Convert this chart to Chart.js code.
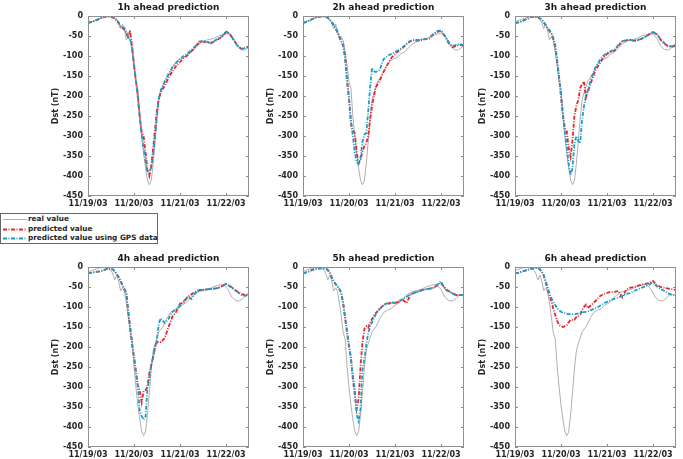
<!DOCTYPE html>
<html><head><meta charset="utf-8">
<script src="https://cdn.jsdelivr.net/npm/chart.js@4.4.1/dist/chart.umd.min.js"></script>
<style>
html,body{margin:0;padding:0;background:#fff;overflow:hidden;width:683px;height:459px;}
canvas{position:absolute;}
#legend{position:absolute;left:0;top:213px;width:156px;height:29px;border:1px solid #666;background:#fff;font:bold 7.3px "DejaVu Sans",sans-serif;color:#262626;}
.row{position:absolute;left:0;height:10px;width:156px;}
.row svg{position:absolute;left:2px;top:0;}
.row span{position:absolute;left:27px;top:0;line-height:10px;white-space:nowrap;}
</style></head><body>
<div id="legend">
  <div class="row" style="top:0px"><svg width="24" height="10"><line x1="0" y1="5.5" x2="24" y2="5.5" stroke="#b0b0b0" stroke-width="1"/></svg><span>real value</span></div>
  <div class="row" style="top:9.5px"><svg width="24" height="10"><line x1="0" y1="5.5" x2="24" y2="5.5" stroke="#e8262b" stroke-width="1.8" stroke-dasharray="4 1.5 1 1.5"/></svg><span>predicted value</span></div>
  <div class="row" style="top:19px"><svg width="24" height="10"><line x1="0" y1="5.5" x2="24" y2="5.5" stroke="#1f9bc4" stroke-width="1.8" stroke-dasharray="4 1.5 1 1.5"/></svg><span>predicted value using GPS data</span></div>
</div>
<script>
// ---------------- DATA ----------------
const xTickHours = [0, 24, 48, 72];
const xTickLabels = ['11/19/03', '11/20/03', '11/21/03', '11/22/03'];
const yTickValues = [0, -50, -100, -150, -200, -250, -300, -350, -400, -450];
const panelTitles = ['1h ahead prediction', '2h ahead prediction', '3h ahead prediction',
                     '4h ahead prediction', '5h ahead prediction', '6h ahead prediction'];

// hours since 11/19/03 00:00
const hours = [0,2,4,6,8,10,12,
  13,14,15,16,17,18,19,20,21,22,23,24,25,26,27,28,29,30,31,32,33,34,35,36,37,38,
  40,42,44,46,48,50,52,54,56,58,60,62,64,66,68,70,72,74,76,78,80,82,84];
const realHours = hours.concat([86, 88, 90]);

// observed Dst (nT), time base of the 1h panel
const realDst = [-16,-14,-11,-7,-4,-1,-1,
  -3,-5,-8,-18,-32,-20,-35,-60,-52,-62,-90,-125,-165,-180,-250,-300,-345,-380,-410,-422,-412,-370,-315,-255,-210,-192,
  -162,-150,-130,-114,-108,-104,-95,-90,-80,-70,-64,-60,-58,-55,-50,-47,-44,-45,-56,-75,-84,-85,-78,
  -68,-70,-70];
// shift (hours) of the observed curve as it appears in each panel
const realShiftHours = [0, -1, -2, -3, -4, -5];

const pred1h = [-17,-15,-11,-7,-3,-1,-2,
  -4,-7,-12,-18,-27,-30,-34,-42,-55,-35,-80,-120,-160,-200,-250,-290,-300,-340,-385,-400,-375,-330,-280,-235,-205,-190,
  -175,-155,-138,-125,-115,-105,-98,-88,-78,-66,-64,-66,-68,-64,-58,-52,-40,-46,-60,-74,-82,-80,-76];
const gps1h = [-17,-15,-11,-7,-3,-1,-1,
  -3,-6,-10,-16,-26,-28,-30,-40,-52,-60,-72,-125,-165,-205,-255,-300,-330,-360,-390,-388,-380,-345,-300,-250,-205,-185,
  -165,-145,-128,-117,-107,-100,-93,-85,-75,-64,-62,-65,-67,-62,-56,-50,-38,-45,-60,-75,-83,-80,-75];

const pred2h = [-17,-15,-10,-5,-2,-1,-2,
  -5,-10,-16,-23,-31,-41,-52,-64,-75,-100,-160,-205,-270,-285,-293,-340,-368,-360,-340,-325,-318,-300,-260,-225,-200,-178,
  -162,-140,-122,-105,-95,-87,-80,-70,-63,-60,-62,-60,-58,-56,-46,-40,-37,-50,-68,-78,-75,-72,-75];
const gps2h = [-17,-15,-10,-5,-2,-1,-2,
  -5,-10,-15,-22,-30,-40,-50,-62,-72,-110,-165,-205,-260,-300,-340,-365,-370,-355,-315,-296,-293,-240,-180,-130,-138,-140,
  -135,-108,-100,-95,-90,-85,-78,-70,-62,-60,-60,-58,-58,-55,-45,-38,-36,-50,-65,-75,-72,-70,-73];

const pred3h = [-17,-16,-12,-8,-3,-2,-3,
  -6,-10,-16,-24,-32,-38,-45,-58,-78,-115,-155,-200,-245,-280,-288,-330,-352,-310,-250,-225,-210,-180,-170,-164,-205,-190,
  -162,-135,-120,-105,-95,-90,-86,-74,-64,-61,-60,-62,-60,-57,-52,-46,-40,-46,-60,-70,-76,-77,-73];
const gps3h = [-17,-16,-12,-8,-3,-2,-3,
  -6,-10,-15,-22,-30,-36,-43,-55,-72,-110,-150,-200,-250,-290,-325,-370,-398,-380,-320,-300,-312,-318,-260,-225,-200,-185,
  -152,-128,-112,-100,-92,-88,-84,-72,-63,-60,-60,-61,-60,-57,-52,-46,-40,-45,-58,-68,-75,-76,-72];

const pred4h = [-15,-14,-12,-11,-8,-5,-4,
  -6,-11,-18,-26,-36,-46,-56,-66,-112,-152,-195,-225,-262,-295,-310,-338,-310,-308,-300,-265,-245,-225,-200,-188,-186,-188,
  -178,-150,-125,-112,-92,-88,-75,-68,-62,-58,-57,-56,-55,-54,-52,-48,-43,-48,-55,-62,-68,-70,-68];
const gps4h = [-15,-14,-12,-11,-8,-5,-4,
  -6,-11,-18,-25,-35,-45,-55,-65,-110,-150,-190,-225,-260,-300,-360,-372,-382,-375,-305,-280,-245,-225,-200,-180,-140,-128,
  -140,-130,-112,-105,-97,-85,-74,-80,-65,-58,-57,-56,-55,-54,-52,-47,-42,-47,-55,-62,-70,-72,-70];

const pred5h = [-16,-13,-9,-5,-4,-3,-4,
  -8,-15,-26,-36,-43,-49,-56,-66,-95,-130,-165,-200,-225,-280,-320,-355,-330,-250,-190,-155,-148,-152,-140,-130,-122,-115,
  -104,-96,-92,-90,-90,-87,-82,-90,-70,-64,-62,-58,-55,-54,-52,-46,-40,-52,-60,-65,-70,-70,-70];
const gps5h = [-16,-13,-9,-5,-4,-3,-4,
  -8,-15,-25,-35,-42,-48,-55,-65,-90,-125,-160,-195,-230,-270,-305,-370,-385,-355,-260,-230,-195,-165,-150,-138,-128,-118,
  -105,-95,-90,-88,-90,-85,-80,-75,-68,-64,-62,-58,-56,-54,-52,-44,-36,-55,-62,-66,-72,-70,-70];

const pred6h = [-16,-14,-11,-8,-5,-3,-3,
  -6,-12,-22,-38,-55,-72,-86,-105,-120,-135,-145,-148,-150,-148,-145,-138,-132,-132,-132,-125,-123,-119,-108,-100,-94,-103,
  -94,-85,-74,-68,-65,-62,-62,-60,-76,-57,-52,-50,-47,-44,-42,-40,-35,-45,-50,-52,-54,-56,-58];
const gps6h = [-16,-14,-11,-8,-5,-3,-3,
  -6,-12,-20,-35,-50,-65,-78,-88,-95,-103,-108,-112,-114,-115,-117,-118,-118,-118,-118,-117,-116,-115,-114,-113,-112,-111,
  -107,-103,-98,-92,-87,-83,-79,-76,-72,-68,-65,-60,-56,-52,-48,-44,-38,-48,-55,-60,-66,-70,-72];

const predicted = [pred1h, pred2h, pred3h, pred4h, pred5h, pred6h];
const predictedGps = [gps1h, gps2h, gps3h, gps4h, gps5h, gps6h];

// ---------------- LAYOUT / STYLE ----------------
const plotLefts = [88, 303, 515];
const plotTops = [16, 267];
const PLOT_W = 161, PLOT_H = 180;
const COL_REAL = '#b0b0b0', COL_PRED = '#e8262b', COL_GPS = '#1f9bc4';
const TXT = '#262626';
const DASH = [4, 1.5, 1, 1.5];

Chart.defaults.font.family = "'DejaVu Sans', sans-serif";

const boxPlugin = {
  id: 'matlabBox',
  afterDatasetsDraw(chart) {
    const {ctx, chartArea: a, scales: {x, y}} = chart;
    ctx.save();
    ctx.strokeStyle = '#8f8f8f';
    ctx.lineWidth = 1;
    ctx.strokeRect(Math.round(a.left) + 0.5, Math.round(a.top) + 0.5, Math.round(a.width) - 1, Math.round(a.height) - 1);
    ctx.beginPath();
    for (const v of yTickValues) {
      const py = Math.round(y.getPixelForValue(v)) + 0.5;
      ctx.moveTo(a.left, py); ctx.lineTo(a.left + 3, py);
      ctx.moveTo(a.right, py); ctx.lineTo(a.right - 3, py);
    }
    for (const v of xTickHours) {
      const px = Math.round(x.getPixelForValue(v)) + 0.5;
      ctx.moveTo(px, a.bottom); ctx.lineTo(px, a.bottom - 3);
      ctx.moveTo(px, a.top); ctx.lineTo(px, a.top + 3);
    }
    ctx.stroke();
    ctx.restore();
  }
};

for (let i = 0; i < 6; i++) {
  const col = i % 3, row = Math.floor(i / 3);
  const cv = document.createElement('canvas');
  const W = 40 + PLOT_W + 4, H = 16 + PLOT_H + 14;
  cv.width = W; cv.height = H;
  cv.style.left = (plotLefts[col] - 40) + 'px';
  cv.style.top = (plotTops[row] - 16) + 'px';
  cv.style.width = W + 'px'; cv.style.height = H + 'px';
  document.body.appendChild(cv);

  const shift = realShiftHours[i];
  new Chart(cv, {
    type: 'line',
    data: {
      datasets: [
        {label: 'predicted value using GPS data', data: hours.map((h, j) => ({x: h, y: predictedGps[i][j]})),
         borderColor: COL_GPS, borderWidth: 1.8, borderDash: DASH, pointRadius: 0, fill: false, order: 0},
        {label: 'predicted value', data: hours.map((h, j) => ({x: h, y: predicted[i][j]})),
         borderColor: COL_PRED, borderWidth: 1.8, borderDash: DASH, pointRadius: 0, fill: false, order: 1},
        {label: 'real value', data: realHours.map((h, j) => ({x: h + shift, y: realDst[j]})),
         borderColor: COL_REAL, borderWidth: 1, pointRadius: 0, fill: false, order: 2}
      ]
    },
    options: {
      responsive: false, animation: false, devicePixelRatio: 1,
      layout: {padding: {left: 3, right: 4, top: 0, bottom: 0}},
      plugins: {
        legend: {display: false},
        tooltip: {enabled: false},
        title: {display: true, text: panelTitles[i], fullSize: false, color: '#1a1a1a',
                font: {size: 9, weight: 'bold', lineHeight: 1}, padding: {top: 3, bottom: 4}}
      },
      scales: {
        x: {
          type: 'linear', min: 0, max: 84,
          afterBuildTicks: s => { s.ticks = xTickHours.map(v => ({value: v})); },
          afterFit: s => { s.height = 14; },
          grid: {display: false, drawTicks: false},
          border: {display: false},
          ticks: {autoSkip: false, maxRotation: 0, padding: 3, color: TXT,
                  font: {size: 8, weight: 'bold'},
                  callback: v => xTickLabels[xTickHours.indexOf(v)]}
        },
        y: {
          type: 'linear', min: -450, max: 0,
          afterBuildTicks: s => { s.ticks = yTickValues.slice().reverse().map(v => ({value: v})); },
          afterFit: s => { s.width = 37; },
          grid: {display: false, drawTicks: false},
          border: {display: false},
          ticks: {padding: 5, color: TXT, font: {size: 8, weight: 'bold'}, callback: v => String(v)},
          title: {display: true, text: 'Dst (nT)', color: TXT, padding: 0,
                  font: {size: 8, weight: 'bold', lineHeight: 1.2}}
        }
      }
    },
    plugins: [boxPlugin]
  });
}
</script>
</body></html>
